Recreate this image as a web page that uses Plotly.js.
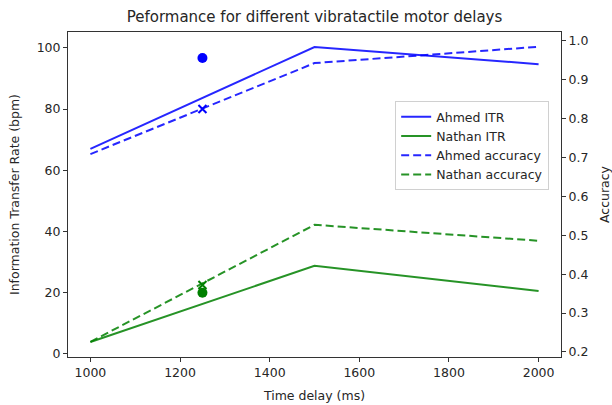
<!DOCTYPE html>
<html>
<head>
<meta charset="utf-8">
<script src="https://cdn.plot.ly/plotly-3.0.1.min.js"></script>
<style>html,body{margin:0;padding:0;background:#fff;}#chart{width:612px;height:405px;}</style>
</head>
<body>
<div id="chart"></div>
<script>
const delays = [1000, 1500, 2000];
const ahmedITR = [67.0, 100.3, 94.7];
const nathanITR = [3.9, 28.8, 20.6];
const ahmedAcc = [0.709, 0.943, 0.985];
const nathanAcc = [0.226, 0.527, 0.486];
const extraDelay = [1250];
const ahmedITRPoint = [96.7];
const ahmedAccPoint = [0.825];
const nathanITRPoint = [20.0];
const nathanAccPoint = [0.372];

const BLUE = '#0000ff', GREEN = '#008000';
const txt = '#262626';
const F = 'DejaVu Sans';

const traces = [
  {x: delays, y: ahmedITR, name: 'Ahmed ITR', mode: 'lines', line: {color: BLUE, width: 2}, opacity: 0.85, yaxis: 'y'},
  {x: delays, y: nathanITR, name: 'Nathan ITR', mode: 'lines', line: {color: GREEN, width: 2}, opacity: 0.85, yaxis: 'y'},
  {x: delays, y: ahmedAcc, name: 'Ahmed accuracy', mode: 'lines', line: {color: BLUE, width: 2, dash: '8px,4px'}, opacity: 0.85, yaxis: 'y2'},
  {x: delays, y: nathanAcc, name: 'Nathan accuracy', mode: 'lines', line: {color: GREEN, width: 2, dash: '8px,4px'}, opacity: 0.85, yaxis: 'y2'},
  {x: extraDelay, y: ahmedAccPoint, mode: 'markers', showlegend: false, marker: {color: BLUE, size: 8, symbol: 'x-thin', line: {color: BLUE, width: 2}}, yaxis: 'y2'},
  {x: extraDelay, y: nathanAccPoint, mode: 'markers', showlegend: false, marker: {color: GREEN, size: 8, symbol: 'x-thin', line: {color: GREEN, width: 2}}, yaxis: 'y2'},
  {x: extraDelay, y: ahmedITRPoint, mode: 'markers', showlegend: false, marker: {color: BLUE, size: 10, symbol: 'circle'}, yaxis: 'y'},
  {x: extraDelay, y: nathanITRPoint, mode: 'markers', showlegend: false, marker: {color: GREEN, size: 10, symbol: 'circle'}, yaxis: 'y'}
];

const axisCommon = {
  showgrid: false, zeroline: false, showline: true, linecolor: '#333', linewidth: 1,
  ticks: 'outside', ticklen: 4, tickcolor: '#333', tickfont: {family: F, size: 12.5, color: txt}
};

const layout = {
  width: 612, height: 405,
  margin: {l: 68, r: 51, t: 32, b: 48},
  paper_bgcolor: '#fff', plot_bgcolor: '#fff',
  font: {family: F, color: txt},
  title: {text: 'Peformance for different vibratactile motor delays', font: {family: F, size: 15, color: txt}, x: 0.5, xref: 'paper', y: 0.972, yanchor: 'top'},
  xaxis: Object.assign({}, axisCommon, {range: [950, 2050], tickvals: [1000, 1200, 1400, 1600, 1800, 2000], mirror: true,
    title: {text: 'Time delay (ms)', font: {family: F, size: 12.5, color: txt}, standoff: 12}}),
  yaxis: Object.assign({}, axisCommon, {range: [-1.0, 105.2], tickvals: [0, 20, 40, 60, 80, 100],
    title: {text: 'Information Transfer Rate (bpm)', font: {family: F, size: 12.5, color: txt}, standoff: 14}}),
  yaxis2: Object.assign({}, axisCommon, {range: [0.187, 1.023], overlaying: 'y', side: 'right',
    tickvals: [0.2, 0.3, 0.4, 0.5, 0.6, 0.7, 0.8, 0.9, 1.0], ticktext: ['0.2','0.3','0.4','0.5','0.6','0.7','0.8','0.9','1.0'],
    title: {text: 'Accuracy', font: {family: F, size: 12.5, color: txt}, standoff: 12}}),
  legend: {x: 0.976, xanchor: 'right', y: 0.787, yanchor: 'top', bordercolor: '#d0d0d0', borderwidth: 1,
    bgcolor: 'rgba(255,255,255,0.8)', font: {family: F, size: 12.5, color: txt}, tracegroupgap: 0}
};

Plotly.newPlot('chart', traces, layout, {displayModeBar: false, staticPlot: true});
</script>
</body>
</html>
